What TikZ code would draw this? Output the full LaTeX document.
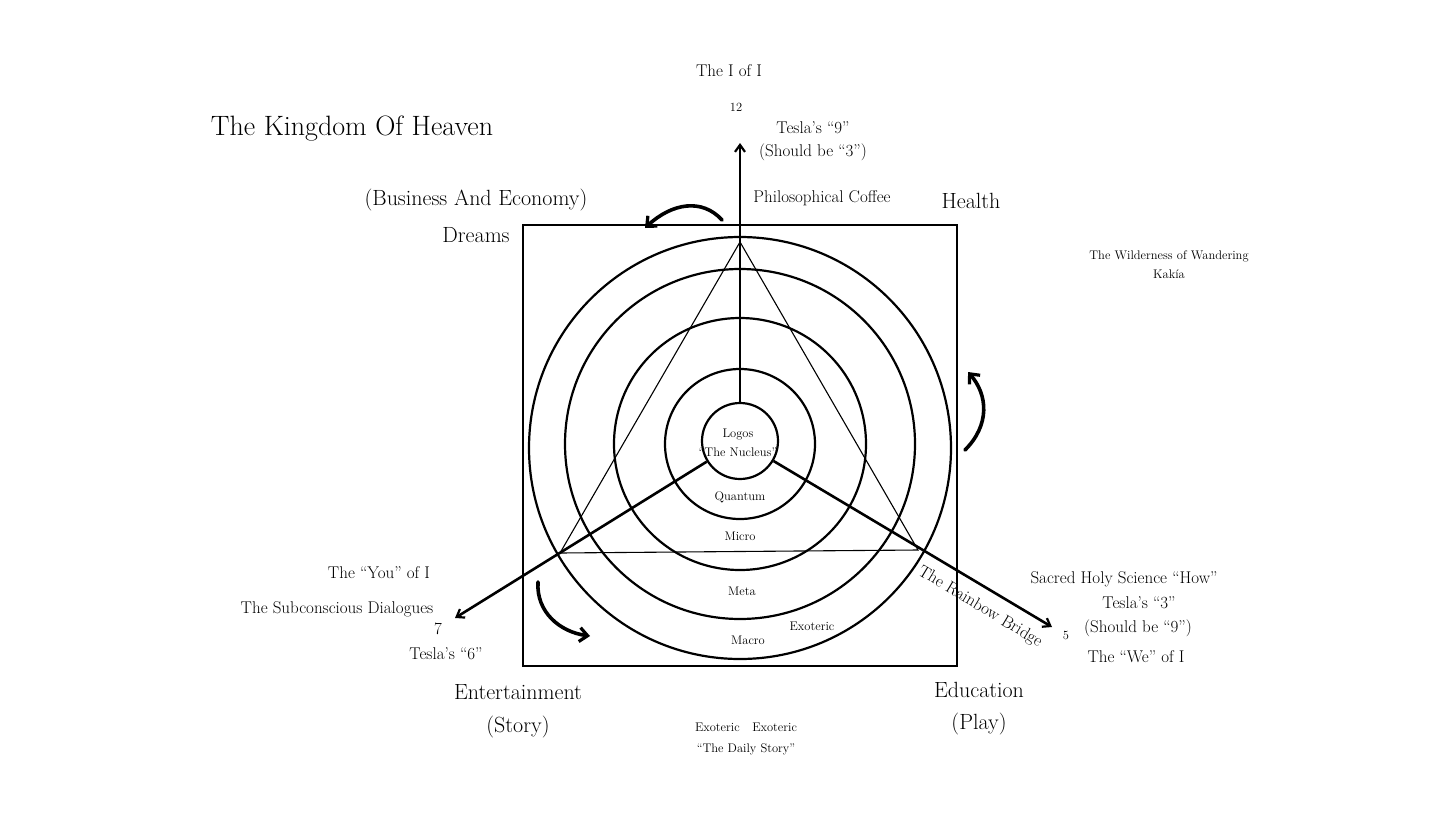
\documentclass[tikz,border=0pt]{standalone}
\usetikzlibrary{arrows.meta}

\tikzset{
    txt/.style={inner sep=0pt, font=\fontsize{17}{20}\selectfont},
    bigtxt/.style={inner sep=0pt, font=\fontsize{22}{26}\selectfont},
    smalltxt/.style={inner sep=0pt, font=\fontsize{12.5}{15}\selectfont},
    ring/.style={line width=2.2pt},
    axis/.style={line width=2.6pt, -{Straight Barb[length=7pt, width=10pt, line width=2.2pt]}},
    curly/.style={line width=3.6pt, line cap=round, -{Straight Barb[length=8pt, width=14pt, line width=3.2pt]}}
}

\begin{document}
\begin{tikzpicture}[x=1pt, y=-1pt]
    \useasboundingbox (0,0) rectangle (1456,819);

    % Le carre
    \draw[line width=2.6pt] (523,225) rectangle (957,666);

    % Les cercles
    \coordinate (c) at (740,444);
    \draw[ring] (c) circle[radius=75pt];
    \draw[ring] (c) circle[radius=126pt];
    \draw[ring] (c) circle[radius=175pt];
    \draw[ring] (740,448) circle[radius=211pt];

    % Le noyau
    \node[draw, circle, ring, minimum size=76pt, inner sep=0pt] (nucleus) at (740,441) {};

    % Le triangle
    \coordinate (apex) at (740,242);
    \coordinate (baseL) at (560,553);
    \coordinate (baseR) at (918,550);
    \draw[line width=1.1pt] (apex) -- (baseL) -- (baseR) -- cycle;

    % Les trois axes
    \coordinate (twelve) at (740,143);
    \coordinate (seven) at (455,618);
    \coordinate (five) at (1052,627);
    \draw[axis] (nucleus) -- (twelve);
    \draw[axis] (nucleus) -- (seven);
    \draw[axis] (nucleus) -- (five);

    % Les fleches courbes
    \coordinate (topA) at (722,220);
    \coordinate (topB) at (645,228);
    \draw[curly] (topA) .. controls (702,198) and (672,203) .. (topB);
    \coordinate (rightA) at (965,450);
    \coordinate (rightB) at (968,372);
    \draw[curly] (rightA) .. controls (990,425) and (988,395) .. (rightB);
    \coordinate (leftA) at (538,582);
    \coordinate (leftB) at (590,636);
    \draw[curly] (leftA) .. controls (536,612) and (560,632) .. (leftB);

    % Titre
    \node[inner sep=0pt, font=\fontsize{28}{32}\selectfont] (title) at (352,129) {The Kingdom Of Heaven};

    % En haut
    \node[txt] (iofi) at (729,71) {The I of I};
    \node[smalltxt] (n12) at (736,107) {12};
    \node[txt] (tesla9) at (813,128) {Tesla's ``9''};
    \node[txt] (should3) at (813,152) {(Should be ``3'')};
    \node[txt] (coffee) at (822,198) {Philosophical Coffee};

    % Coins
    \node[bigtxt] (health) at (971,201) {Health};
    \node[bigtxt] (business) at (476,200) {(Business And Economy)};
    \node[bigtxt] (dreams) at (476,235) {Dreams};
    \node[bigtxt] (entertain) at (518,692) {Entertainment};
    \node[bigtxt] (story) at (518,727) {(Story)};
    \node[bigtxt] (education) at (979,690) {Education};
    \node[bigtxt] (play) at (979,724) {(Play)};

    % Le desert
    \node[smalltxt] (wild) at (1169,256) {The Wilderness of Wandering};
    \node[smalltxt] (kakia) at (1169,274) {Kak\'{\i}a};

    % Les couches
    \node[smalltxt] (logos) at (738,435) {Logos};
    \node[smalltxt] (nucl) at (738,452) {``The Nucleus''};
    \node[smalltxt] (quantum) at (740,497) {Quantum};
    \node[smalltxt] (micro) at (740,536) {Micro};
    \node[smalltxt] (meta) at (742,591) {Meta};
    \node[smalltxt] (macro) at (748,640) {Macro};
    \node[smalltxt] (exo) at (812,626) {Exoteric};

    % A gauche
    \node[txt] (you) at (379,573) {The ``You'' of I};
    \node[txt] (subcon) at (337,609) {The Subconscious Dialogues};
    \node[txt] (n7) at (438,629) {7};
    \node[txt] (tesla6) at (446,654) {Tesla's ``6''};

    % A droite
    \node[txt] (sacred) at (1124,579) {Sacred Holy Science ``How''};
    \node[txt] (tesla3) at (1139,603) {Tesla's ``3''};
    \node[txt] (should9) at (1138,628) {(Should be ``9'')};
    \node[txt] (we) at (1136,657) {The ``We'' of I};
    \node[smalltxt] (n5) at (1066,635) {5};
    \node[txt, rotate=-31] (rainbow) at (980,607) {The Rainbow Bridge};

    % En bas
    \node[smalltxt] (exobot) at (746,727) {Exoteric\quad Exoteric};
    \node[smalltxt] (daily) at (746,749) {``The Daily Story''};
\end{tikzpicture}
\end{document}
